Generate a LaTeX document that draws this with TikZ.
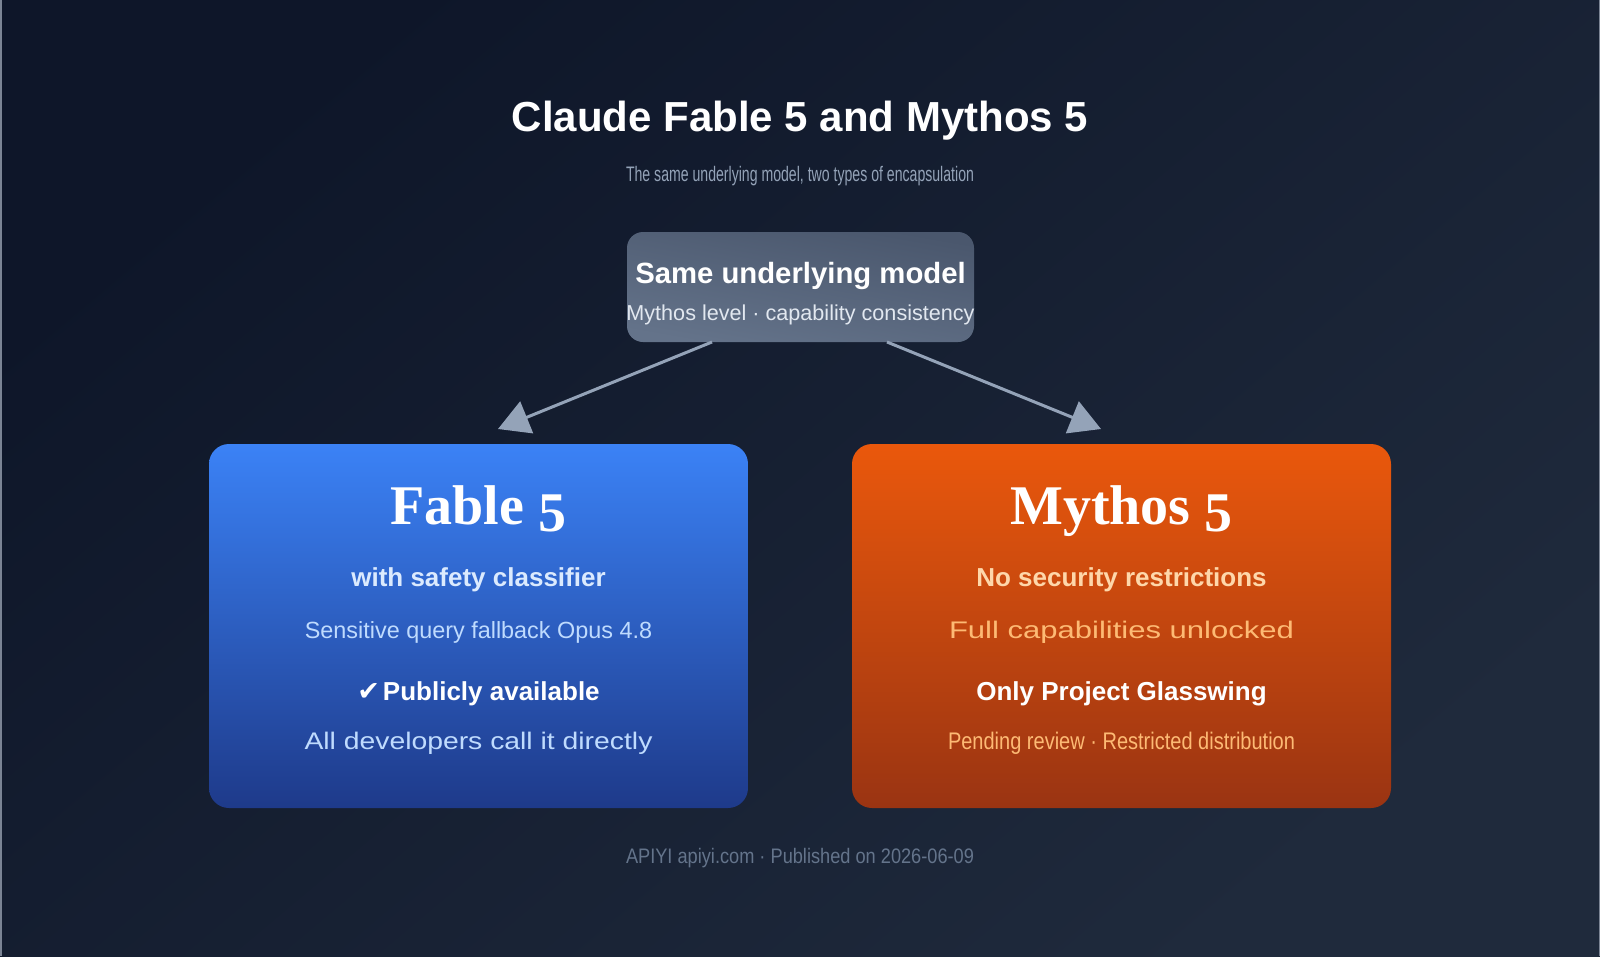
\documentclass[tikz,border=0pt]{standalone}
\usepackage{fontspec}
\usepackage{graphicx}
\setmainfont{Liberation Sans}
\newfontfamily\serifbold{Liberation Serif}
\newfontfamily\symfont{DejaVu Sans}
\usetikzlibrary{arrows.meta,shadings}
\definecolor{bgA}{HTML}{0E1629}
\definecolor{bgB}{HTML}{1F2A3C}
\definecolor{edge}{HTML}{7B8494}
\definecolor{subt}{HTML}{94A3B8}
\definecolor{foot}{HTML}{64748B}
\definecolor{slA}{HTML}{4A576D}
\definecolor{slB}{HTML}{64738A}
\definecolor{slT}{HTML}{E2E8F0}
\definecolor{fabA}{HTML}{3B82F6}
\definecolor{fabB}{HTML}{1E3A8A}
\definecolor{fabL}{HTML}{DBEAFE}
\definecolor{fabM}{HTML}{BFDBFE}
\definecolor{myA}{HTML}{EA580C}
\definecolor{myB}{HTML}{9A3412}
\definecolor{myL}{HTML}{FED7AA}
\definecolor{myM}{HTML}{FDBA74}
\definecolor{arrc}{HTML}{94A3B8}
\newcommand\fitw[2]{\resizebox{#1}{\height}{#2}}
\newcommand\oldfive{\raisebox{-7pt}{5}}
\begin{document}
\begin{tikzpicture}[x=1pt,y=-1pt,
  txt/.style={anchor=base,inner sep=0pt,outer sep=0pt},
  panel/.style={draw=none,inner sep=0pt,outer sep=0pt,rounded corners=20pt},
  bigttl/.style={txt,white,font=\fontsize{56}{60}\selectfont\serifbold\bfseries},
  boldln/.style={txt,font=\fontsize{26}{30}\selectfont\bfseries},
  regln/.style={txt,font=\fontsize{23.4}{28}\selectfont},
  wideln/.style={txt,font=\fontsize{24}{28}\selectfont},
  arr/.style={draw=arrc,line width=3pt,-{Triangle[length=31pt,width=34pt]}}
]
\useasboundingbox (0,0) rectangle (1600,956);
\shade[shading=axis,top color=bgA,bottom color=bgB,shading angle=40] (0,0) rectangle (1600,956);
\draw[edge,line width=1.5pt] (0.75,0) -- (0.75,956);
\draw[edge,line width=1.5pt] (1599.25,0) -- (1599.25,956);

% title
\node[txt,white,font=\fontsize{42}{50}\selectfont\bfseries] (title) at (800,131) {Claude Fable 5 and Mythos 5};
\node[txt,subt,font=\fontsize{21}{25}\selectfont] (subtitle) at (800,181.5) {\fitw{348pt}{The same underlying model, two types of encapsulation}};

% core box
\node[panel,rounded corners=16pt,top color=slA,bottom color=slB,shading angle=-10,minimum width=347pt,minimum height=110pt] (core) at (800.5,287) {};
\node[txt,white,font=\fontsize{29.3}{34}\selectfont\bfseries] (coret) at (800.5,283) {Same underlying model};
\node[txt,slT,font=\fontsize{21.6}{26}\selectfont] (cores) at (800.5,320) {Mythos level · capability consistency};

% panels
\node[panel,top color=fabA,bottom color=fabB,minimum width=539pt,minimum height=364pt] (fable) at (478.5,626) {};
\node[panel,top color=myA,bottom color=myB,minimum width=539pt,minimum height=364pt] (mythos) at (1121.5,626) {};

% arrows
\coordinate (ltip) at (498,429);
\coordinate (rtip) at (1101,429);
\draw[arr] ([xshift=85pt]core.south west) -- (ltip);
\draw[arr] ([xshift=-87pt]core.south east) -- (rtip);

% fable texts
\node[bigttl] (f1) at (478.5,524) {Fable \oldfive};
\node[boldln,fabL] (f2) at (478.5,586) {with safety classifier};
\node[regln,fabM] (f3) at (478.5,638) {Sensitive query fallback Opus 4.8};
\node[boldln,white] (f4) at (478.5,700) {{\symfont\fontsize{27}{30}\selectfont ✔}\hspace{3pt}Publicly available};
\node[wideln,fabM] (f5) at (478.5,749) {\fitw{348pt}{All developers call it directly}};

% mythos texts
\node[bigttl] (m1) at (1121.5,524) {Mythos \oldfive};
\node[boldln,myL] (m2) at (1121.5,586) {No security restrictions};
\node[wideln,myM] (m3) at (1121.5,638) {\fitw{345pt}{Full capabilities unlocked}};
\node[boldln,white] (m4) at (1121.5,700) {Only Project Glasswing};
\node[wideln,myM] (m5) at (1121.5,749) {\fitw{347pt}{Pending review · Restricted distribution}};

% footer
\node[txt,foot,font=\fontsize{21}{25}\selectfont] (footer) at (800,863.5) {\fitw{348pt}{APIYI apiyi.com · Published on 2026-06-09}};
\end{tikzpicture}
\end{document}
